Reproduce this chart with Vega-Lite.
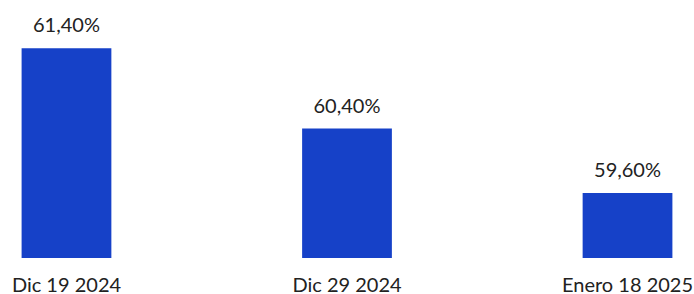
{
  "$schema": "https://vega.github.io/schema/vega-lite/v6.json",
  "width": 694,
  "height": 258,
  "autosize": {"type": "none"},
  "padding": {"top": 0, "left": 0, "right": 0, "bottom": 36},
  "background": "white",
  "config": {
    "view": {"stroke": null},
    "locale": {"number": {"decimal": ",", "thousands": ".", "grouping": [3], "currency": ["", " €"]}},
    "font": "Lato"
  },
  "data": {
    "values": [
      {"fecha": "Dic 19 2024", "valor": 0.614},
      {"fecha": "Dic 29 2024", "valor": 0.604},
      {"fecha": "Enero 18 2025", "valor": 0.596}
    ]
  },
  "encoding": {
    "x": {
      "field": "fecha",
      "type": "nominal",
      "sort": null,
      "scale": {"paddingInner": 0.68, "paddingOuter": 0.077},
      "axis": {
        "title": null,
        "labelAngle": 0,
        "ticks": false,
        "domain": false,
        "labelPadding": 17,
        "labelFontSize": 20,
        "labelColor": "#222222",
        "labelFont": "Lato"
      }
    },
    "y": {
      "field": "valor",
      "type": "quantitative",
      "scale": {"domain": [0.5879, 0.62], "zero": false, "nice": false},
      "axis": null
    }
  },
  "layer": [
    {
      "mark": {"type": "bar", "color": "#1641c8"},
      "encoding": {"y2": {"datum": 0.5879}}
    },
    {
      "mark": {"type": "text", "baseline": "bottom", "dy": -12, "fontSize": 20, "color": "#222222", "font": "Lato"},
      "encoding": {"text": {"field": "valor", "type": "quantitative", "format": ".2%"}}
    }
  ]
}
